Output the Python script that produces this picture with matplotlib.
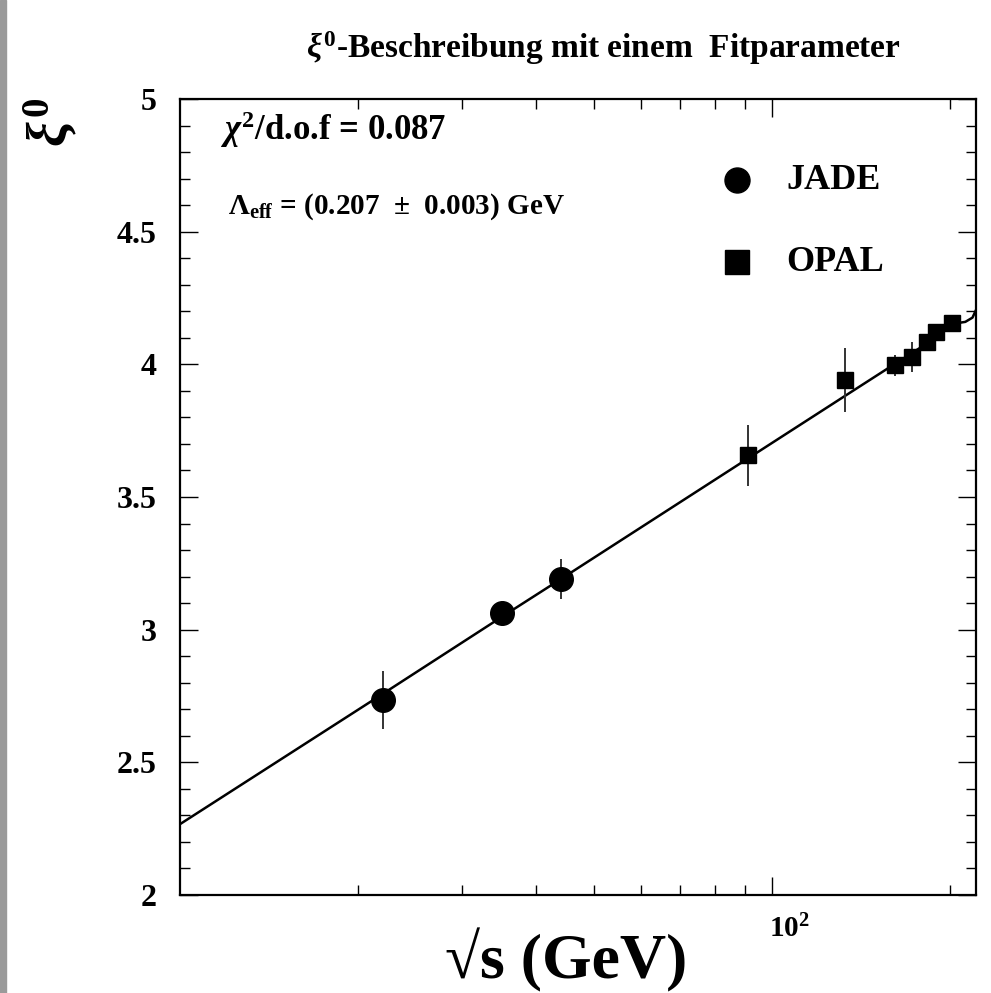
import numpy as np
import matplotlib
matplotlib.use("Agg")
import matplotlib.pyplot as plt
from matplotlib.patches import Rectangle
from matplotlib.transforms import ScaledTranslation

plt.rcParams["font.family"] = ["Liberation Serif", "DejaVu Serif"]
plt.rcParams["font.weight"] = "bold"
plt.rcParams["mathtext.fontset"] = "custom"
plt.rcParams["mathtext.rm"] = "Liberation Serif:bold"
plt.rcParams["mathtext.it"] = "Liberation Serif:italic:bold"
plt.rcParams["mathtext.bf"] = "Liberation Serif:bold"

# JADE data (sqrt(s) in GeV, xi0, error)
jade_x = [22, 35, 44]
jade_y = [2.735, 3.063, 3.191]
jade_err = [0.11, 0.03, 0.075]

# OPAL data
opal_x = [91.2, 133, 161, 172, 183, 189, 201]
opal_y = [3.658, 3.941, 3.997, 4.027, 4.084, 4.122, 4.156]
opal_err = [0.115, 0.12, 0.04, 0.057, 0.03, 0.03, 0.03]

# fit curve
fit_x = [10, 22, 35, 44, 91, 133, 161, 183, 198, 205, 212, 218, 221]
fit_y = [2.267, 2.758, 3.049, 3.191, 3.645, 3.882, 4.001, 4.080, 4.142,
         4.155, 4.160, 4.176, 4.205]

y_major = [2, 2.5, 3, 3.5, 4, 4.5, 5]
y_labels = ["2", "2.5", "3", "3.5", "4", "4.5", "5"]
x_minor = [20, 30, 40, 50, 60, 70, 80, 90, 200]

W, H = 991, 993
fig = plt.figure(figsize=(W / 100, H / 100), dpi=100)
ax = fig.add_axes([180 / W, 1 - 895 / H, 796 / W, 796 / H])

ax.plot(fit_x, fit_y, color="black", lw=1.8, zorder=2)

ax.errorbar(jade_x, jade_y, yerr=jade_err, fmt="o", ms=17, color="black",
            ecolor="#333333", elinewidth=1.4, capsize=0, zorder=3)
ax.errorbar(opal_x, opal_y, yerr=opal_err, fmt="s", ms=12, color="black",
            ecolor="#333333", elinewidth=1.4, capsize=0, zorder=3)

ax.set_xscale("log")
ax.set_xlim(10, 221)
ax.set_ylim(2, 5)

ax.set_xticks([100])
ax.set_xticklabels([r"$10^{2}$"])
ax.set_xticks(x_minor, minor=True)
ax.set_xticklabels([], minor=True)
ax.set_yticks(y_major)
ax.set_yticklabels(y_labels)
ax.set_yticks(np.arange(2, 5.01, 0.1), minor=True)

ax.tick_params(which="both", direction="in", top=True, right=True, width=1.0)
ax.tick_params(which="major", length=13, labelsize=23)
ax.tick_params(axis="y", which="major", pad=17)
ax.tick_params(axis="x", which="major", pad=14, labelsize=21)
ax.tick_params(which="minor", length=7)
for lbl in ax.get_xticklabels():
    lbl.set_transform(lbl.get_transform() +
                      ScaledTranslation(17 / 100, 0, fig.dpi_scale_trans))
for sp in ax.spines.values():
    sp.set_linewidth(1.6)

# legend
ax.plot([0.70], [0.898], transform=ax.transAxes, marker="o", ms=18,
        color="black", clip_on=False)
ax.text(0.762, 0.898, "JADE", transform=ax.transAxes, fontsize=26,
        fontweight="bold", va="center")
ax.plot([0.70], [0.795], transform=ax.transAxes, marker="s", ms=17,
        color="black", clip_on=False)
ax.text(0.762, 0.795, "OPAL", transform=ax.transAxes, fontsize=26,
        fontweight="bold", va="center")

ax.text(0.05, 0.962, r"$\chi^{2}$/d.o.f = 0.087", transform=ax.transAxes,
        fontsize=25, fontweight="bold", va="center")
ax.text(0.06, 0.865, r"$\Lambda_{\rm eff}$ = (0.207  $\pm$  0.003) GeV",
        transform=ax.transAxes, fontsize=21, fontweight="bold", va="center")

fig.text(603 / W, 1 - 48 / H, r"$\xi^{0}$-Beschreibung mit einem  Fitparameter",
         ha="center", va="center", fontsize=24, fontweight="bold")
fig.text(566 / W, 1 - 960 / H, "\u221as (GeV)", ha="center", va="center",
         fontsize=46, fontweight="bold")
fig.text(50 / W, 1 - 122 / H, r"$\xi^{0}$", ha="center", va="center",
         rotation=90, fontsize=40, fontweight="bold")

fig.patches.append(Rectangle((0, 0), 6 / W, 1, transform=fig.transFigure,
                             color="#9a9a9a", zorder=0))

fig.savefig("out.png", dpi=100)
